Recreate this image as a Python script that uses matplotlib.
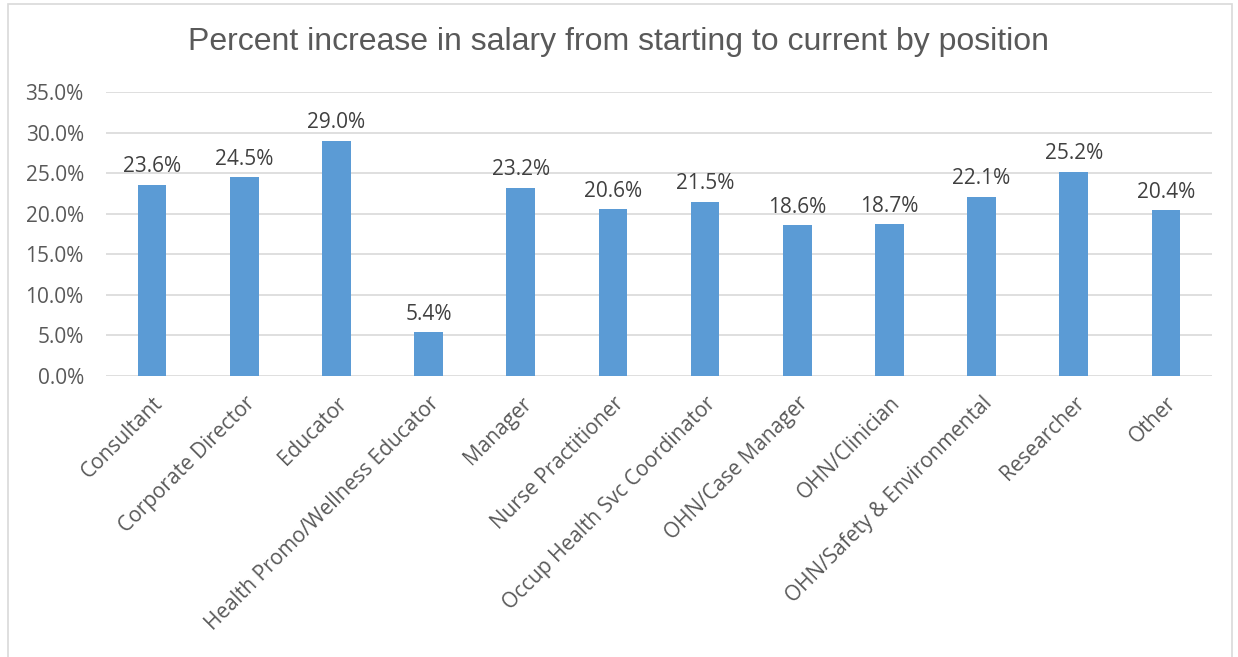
import matplotlib
matplotlib.use('Agg')
import matplotlib.pyplot as plt
from matplotlib.patches import Rectangle
from matplotlib.ticker import FuncFormatter

positions = ['Consultant', 'Corporate Director', 'Educator', 'Health Promo/Wellness Educator',
             'Manager', 'Nurse Practitioner', 'Occup Health Svc Coordinator', 'OHN/Case Manager',
             'OHN/Clinician', 'OHN/Safety & Environmental', 'Researcher', 'Other']
increase = [23.6, 24.5, 29.0, 5.4, 23.2, 20.6, 21.5, 18.6, 18.7, 22.1, 25.2, 20.4]
yticks = [0, 5, 10, 15, 20, 25, 30, 35]

fig = plt.figure(figsize=(12.38, 6.57), dpi=100)
fig.patches.append(Rectangle((8 / 1238, -0.01), 1224 / 1238, 1 - 4 / 657 + 0.01,
                             transform=fig.transFigure, fill=False,
                             edgecolor='#d9d9d9', linewidth=1.2))

ax = fig.add_axes([106 / 1238, 1 - 376 / 657, (1212 - 106) / 1238, (376 - 92) / 657])

x = range(len(positions))
ax.bar(x, increase, width=0.31, color='#5b9bd5', zorder=3)

for xi, v in zip(x, increase):
    ax.text(xi, v + 0.9, '%.1f%%' % v, ha='center', va='bottom',
            fontsize=15, color='#404040', family='Open Sans')

ax.set_xlim(-0.5, len(positions) - 0.5)
ax.set_ylim(0, 35)
ax.set_yticks(yticks)
ax.yaxis.set_major_formatter(FuncFormatter(lambda v, p: '%.1f%%' % v))
ax.grid(axis='y', color='#d9d9d9', linewidth=1.2, zorder=0)
for s in ax.spines.values():
    s.set_visible(False)
ax.tick_params(length=0, labelsize=15, labelcolor='#595959')
ax.tick_params(axis='y', pad=16)
for lab in ax.get_yticklabels():
    lab.set_family('Open Sans')

ax.set_xticks(list(x))
ax.set_xticklabels(positions, rotation=45, ha='right', rotation_mode='anchor',
                   family='Open Sans', fontsize=15, color='#595959')
ax.tick_params(axis='x', pad=12)

fig.text(0.5, 1 - 42 / 657, 'Percent increase in salary from starting to current by position',
         ha='center', va='center', fontsize=23, color='#595959', family='Liberation Sans')

fig.savefig('out.png', dpi=100)
